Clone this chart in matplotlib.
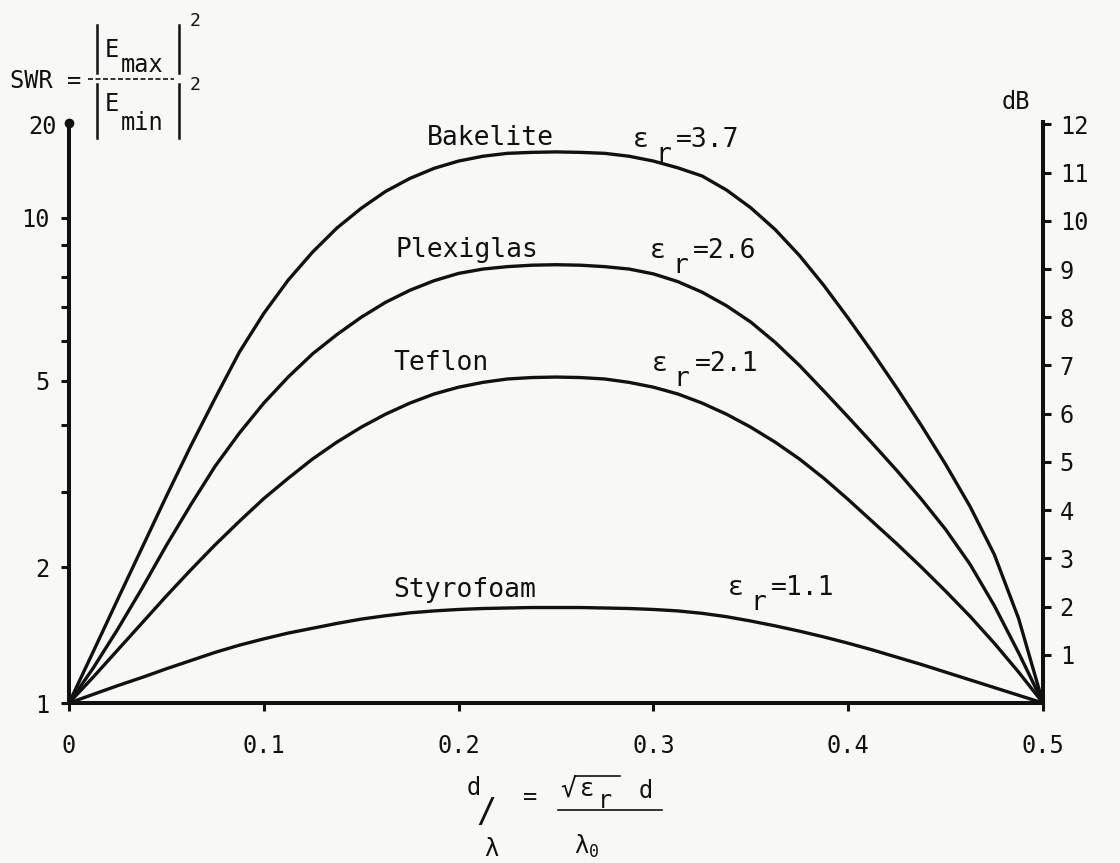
import matplotlib
matplotlib.use("Agg")
import matplotlib.pyplot as plt
from matplotlib.lines import Line2D
from matplotlib.transforms import offset_copy

plt.rcParams["font.family"] = "DejaVu Sans Mono"
plt.rcParams["mathtext.fontset"] = "custom"
plt.rcParams["mathtext.rm"] = "DejaVu Sans Mono"
plt.rcParams["mathtext.it"] = "DejaVu Sans Mono"
plt.rcParams["mathtext.bf"] = "DejaVu Sans Mono:bold"

INK = "#111111"
PAPER = "#f8f8f6"

# slab thickness in wavelengths
d_lambda = [0, 0.0125, 0.025, 0.0375, 0.05, 0.0625, 0.075, 0.0875, 0.1, 0.1125,
            0.125, 0.1375, 0.15, 0.1625, 0.175, 0.1875, 0.2, 0.2125, 0.225, 0.2375,
            0.25, 0.2625, 0.275, 0.2875, 0.3, 0.3125, 0.325, 0.3375, 0.35, 0.3625,
            0.375, 0.3875, 0.4, 0.4125, 0.425, 0.4375, 0.45, 0.4625, 0.475, 0.4875, 0.5]

# measured SWR (dB) against thickness for each dielectric
bakelite_db = [0, 1.07, 2.15, 3.22, 4.29, 5.33, 6.32, 7.28, 8.08, 8.77,
               9.35, 9.85, 10.26, 10.61, 10.88, 11.09, 11.24, 11.34, 11.40, 11.42,
               11.43, 11.42, 11.40, 11.34, 11.24, 11.10, 10.93, 10.64, 10.27, 9.82,
               9.28, 8.66, 7.98, 7.27, 6.53, 5.76, 4.95, 4.08, 3.08, 1.75, 0]
plexiglas_db = [0, 0.73, 1.53, 2.38, 3.27, 4.11, 4.91, 5.60, 6.22, 6.76,
                7.24, 7.64, 8.00, 8.31, 8.56, 8.76, 8.91, 9.00, 9.05, 9.08,
                9.09, 9.08, 9.05, 9.00, 8.90, 8.74, 8.52, 8.24, 7.90, 7.48,
                7.00, 6.47, 5.93, 5.38, 4.82, 4.23, 3.60, 2.88, 2.02, 1.04, 0]
teflon_db = [0, 0.54, 1.10, 1.66, 2.22, 2.76, 3.28, 3.77, 4.24, 4.66,
             5.06, 5.41, 5.72, 5.99, 6.22, 6.41, 6.55, 6.65, 6.72, 6.75,
             6.76, 6.75, 6.72, 6.65, 6.55, 6.41, 6.22, 5.99, 5.72, 5.41,
             5.06, 4.66, 4.22, 3.76, 3.30, 2.82, 2.32, 1.80, 1.24, 0.64, 0]
styrofoam_db = [0, 0.18, 0.36, 0.53, 0.71, 0.88, 1.05, 1.20, 1.33, 1.45,
                1.55, 1.65, 1.74, 1.81, 1.87, 1.91, 1.94, 1.96, 1.97, 1.98,
                1.98, 1.98, 1.97, 1.96, 1.94, 1.91, 1.86, 1.79, 1.70, 1.60,
                1.49, 1.37, 1.24, 1.10, 0.95, 0.80, 0.64, 0.48, 0.32, 0.16, 0]

materials = ["Bakelite", "Plexiglas", "Teflon", "Styrofoam"]
permittivity = ["3.7", "2.6", "2.1", "1.1"]
curves = [bakelite_db, plexiglas_db, teflon_db, styrofoam_db]

# left scale: SWR values and where they sit on the dB scale
swr_labels = ["1", "2", "5", "10"]
swr_at_db = [0, 2.82, 6.68, 10.06]
swr_minor_at_db = [4.38, 5.77, 7.51, 8.22, 8.84, 9.50]
swr_top_label = "20"
swr_top_db = 12.03

db_ticks = [1, 2, 3, 4, 5, 6, 7, 8, 9, 10, 11, 12]
x_ticks = [0, 0.1, 0.2, 0.3, 0.4, 0.5]
x_labels = ["0", "0.1", "0.2", "0.3", "0.4", "0.5"]

W, H = 1120, 863
fig = plt.figure(figsize=(W / 100, H / 100), dpi=100, facecolor=PAPER)


def fx(px):
    return px / W


def fy(py):
    return 1 - py / H


ax = fig.add_axes([fx(69), fy(703), fx(1043) - fx(69), fy(122) - fy(703)])
ax.set_facecolor("none")
ax.set_xlim(0, 0.5)
ax.set_ylim(0, 12.05)

for ys in curves:
    ax.plot(d_lambda, ys, color=INK, lw=2.4, solid_joinstyle="round",
            solid_capstyle="round", clip_on=False)


def typed_eps(x, y, value, size=19):
    # typewriter style: epsilon, r dropped half a line, then "=value"
    ax.text(x, y, "ε", fontsize=size, color=INK, ha="left", va="baseline")
    t_r = offset_copy(ax.transData, fig=fig, x=22, y=-15, units="dots")
    ax.text(x, y, "r", fontsize=size, color=INK, ha="left", va="baseline", transform=t_r)
    t_v = offset_copy(ax.transData, fig=fig, x=43, y=0, units="dots")
    ax.text(x, y, "=" + value, fontsize=size, color=INK, ha="left", va="baseline",
            transform=t_v)


# material names and permittivity notes
name_pos = [(0.1838, 11.58), (0.1674, 9.25), (0.1664, 6.91), (0.1664, 2.20)]
eps_pos = [(0.2896, 11.54), (0.2983, 9.23), (0.2990, 6.89), (0.3384, 2.24)]
for name, eps, (nx, ny), (ex, ey) in zip(materials, permittivity, name_pos, eps_pos):
    ax.text(nx, ny, name, fontsize=19, color=INK, ha="left", va="baseline")
    typed_eps(ex, ey, eps)

# spines
for side in ["top", "right"]:
    ax.spines[side].set_visible(False)
for side in ["left", "bottom"]:
    ax.spines[side].set_linewidth(2.9)
    ax.spines[side].set_color(INK)
ax.spines["left"].set_bounds(0, swr_top_db)

ax.set_xticks(x_ticks)
ax.set_xticklabels(x_labels)
ax.tick_params(axis="x", direction="out", length=6, width=2.2, pad=16,
               labelsize=17, colors=INK)

ax.set_yticks(swr_at_db)
ax.set_yticklabels(swr_labels)
ax.set_yticks(swr_minor_at_db, minor=True)
ax.tick_params(axis="y", which="both", direction="out", length=6, width=2.2, pad=8,
               labelsize=17, colors=INK)
ax.plot([0], [swr_top_db], marker="o", ms=6, color=INK, clip_on=False)
ax.text(-0.0065, swr_top_db - 0.08, swr_top_label, fontsize=17, color=INK,
        ha="right", va="center")

# dB scale on the right
ax2 = ax.twinx()
ax2.set_ylim(ax.get_ylim())
for side in ["top", "left", "bottom"]:
    ax2.spines[side].set_visible(False)
ax2.spines["right"].set_linewidth(2.9)
ax2.spines["right"].set_color(INK)
ax2.set_yticks(db_ticks)
ax2.tick_params(axis="y", direction="out", length=6, width=2.2, pad=6,
                labelsize=17, colors=INK)
fig.text(fx(1016), fy(102), "dB", fontsize=17, color=INK, ha="center", va="center")

# SWR definition in the top-left corner
fig.text(fx(10), fy(88), "SWR =", fontsize=17, color=INK, ha="left", va="baseline")
fig.text(fx(105), fy(57), "E", fontsize=17, color=INK, ha="left", va="baseline")
fig.text(fx(121), fy(72), "max", fontsize=17, color=INK, ha="left", va="baseline")
fig.text(fx(105), fy(111), "E", fontsize=17, color=INK, ha="left", va="baseline")
fig.text(fx(121), fy(130), "min", fontsize=17, color=INK, ha="left", va="baseline")
for bx in (97, 179):
    fig.add_artist(Line2D([fx(bx), fx(bx)], [fy(25), fy(73)], color=INK, lw=1.8))
    fig.add_artist(Line2D([fx(bx), fx(bx)], [fy(84), fy(138)], color=INK, lw=1.8))
fig.add_artist(Line2D([fx(88), fx(174)], [fy(79), fy(79)], color=INK, lw=1.2,
                      ls=(0, (3, 1.5))))
fig.text(fx(190), fy(26), "2", fontsize=13, color=INK, ha="left", va="baseline")
fig.text(fx(190), fy(90), "2", fontsize=13, color=INK, ha="left", va="baseline")

# thickness definition under the x axis
fig.text(fx(467), fy(795), "d", fontsize=17, color=INK, ha="left", va="baseline")
fig.text(fx(476), fy(822), "/", fontsize=24, color=INK, ha="left", va="baseline")
fig.text(fx(484), fy(856), "λ", fontsize=17, color=INK, ha="left", va="baseline")
fig.text(fx(530), fy(797), "=", fontsize=17, color=INK, ha="center", va="center")
fig.text(fx(560), fy(798), "√", fontsize=19, color=INK, ha="left", va="baseline")
fig.add_artist(Line2D([fx(575), fx(620)], [fy(776), fy(776)], color=INK, lw=1.2))
fig.text(fx(580), fy(796), "ε", fontsize=17, color=INK, ha="left", va="baseline")
fig.text(fx(598), fy(808), "r", fontsize=17, color=INK, ha="left", va="baseline")
fig.text(fx(639), fy(798), "d", fontsize=17, color=INK, ha="left", va="baseline")
fig.add_artist(Line2D([fx(558), fx(662)], [fy(810), fy(810)], color=INK, lw=1.2))
fig.text(fx(574), fy(854), r"$\mathrm{λ}_0$", fontsize=17, color=INK,
         ha="left", va="baseline")

fig.savefig("out.png", dpi=100, facecolor=PAPER)
